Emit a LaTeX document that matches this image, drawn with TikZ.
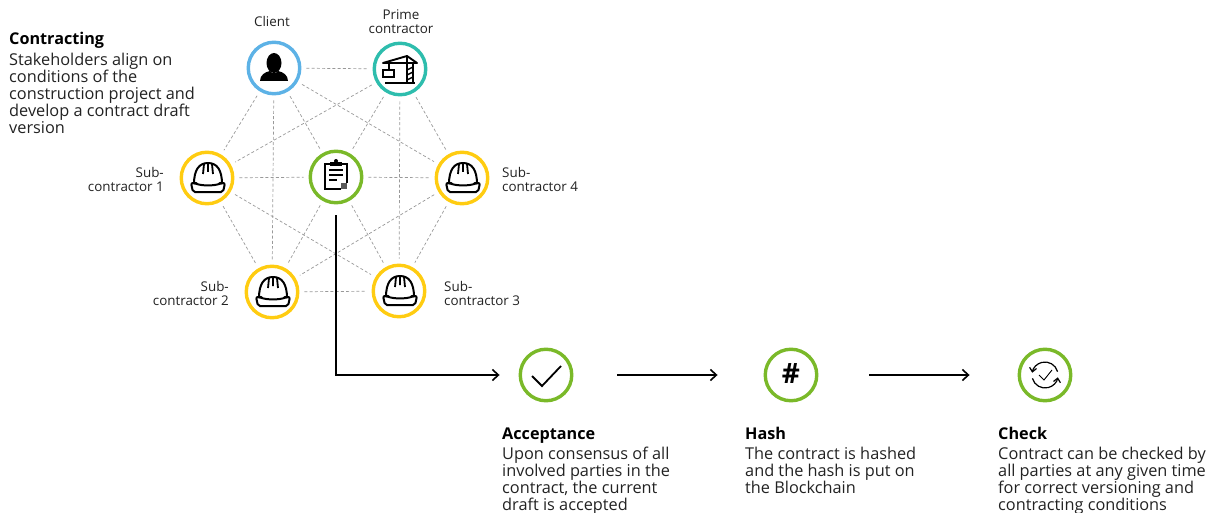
\documentclass[tikz,border=0pt]{standalone}
\usepackage{fontspec}
\setmainfont{Open Sans}
\usetikzlibrary{arrows.meta}
\definecolor{clientblue}{HTML}{5DB2E6}
\definecolor{primeteal}{HTML}{2EBDAD}
\definecolor{subyellow}{HTML}{FFCC11}
\definecolor{stepgreen}{HTML}{7AB929}
\definecolor{inkgray}{HTML}{222222}
\tikzset{
  party/.style={circle,draw=#1,line width=3.4pt,minimum size=51.5pt,inner sep=0pt,fill=white},
  link/.style={draw=gray!80,dash pattern=on 3pt off 2.2pt,line width=0.7pt,shorten >=5pt,shorten <=5pt},
  flow/.style={->,line width=1.6pt,draw=black},
  label/.style={inner sep=0pt,text=inkgray,font=\fontsize{13.4}{14}\selectfont},
  title/.style={inner sep=0pt,anchor=north west,text height=12.4pt,font=\fontsize{16.2}{17}\selectfont\bfseries},
  body/.style={inner sep=0pt,anchor=north west,align=left,text=inkgray,font=\fontsize{16.3}{17}\selectfont},
  pics/hardhat/.style={code={
    \draw[line width=2pt,line join=round] (-13,6) .. controls (-13,-8) and (-8,-15) .. (1,-15) .. controls (10,-15) and (15,-8) .. (15,6);
    \draw[line width=2pt,rounded corners=2pt] (-16,5) -- (-13,5) .. controls (-5,8) and (7,8) .. (15,5) -- (18,5) -- (16,14) -- (-14,14) -- cycle;
    \draw[line width=1.8pt] (-3,-14) -- (-4,-4) (1,-15) -- (1,-6) (5,-14) -- (6,-4);
  }},
  pics/person/.style={code={
    \fill (0,-5) ellipse (7.5pt and 10pt);
    \fill (-14,13) .. controls (-14,7) and (-9,4) .. (-4,3) .. controls (-2,6) and (2,6) .. (4,3) .. controls (9,4) and (14,7) .. (14,13) -- cycle;
  }},
  pics/crane/.style={code={
    \draw[line width=1.9pt,line join=round] (-17,-6) -- (7,-13) -- (17,-6) -- cycle;
    \draw[line width=1.9pt] (-15,14) -- (15,14) (7,-13) -- (7,14) (13,-6) -- (13,14);
    \draw[line width=1.7pt] (-11,-6) -- (-11,1);
    \draw[line width=1.9pt] (-17,1) rectangle (-6,8);
    \foreach \h in {-2,3,8}
      \draw[line width=1.4pt] (7,\h+3) -- (13,\h);
  }},
  pics/clipboard/.style={code={
    \draw[line width=1.5pt] (5,12) -- (-11,12) -- (-11,-13) -- (11,-13) -- (11,6);
    \fill (-6,-15) rectangle (6,-11);
    \fill (0,-16) circle (2pt);
    \draw[line width=1.3pt] (-7,-7) -- (7,-7) (-7,-2) -- (7,-2) (-7,3) -- (1,3);
    \fill[gray!70!black] (5,6) rectangle (11,12);
  }},
  pics/tick/.style={code={
    \draw[line width=1.8pt] (-14,1) -- (-4,11) -- (15,-9);
  }},
  pics/recheck/.style={code={
    \draw[line width=1.2pt,-{Straight Barb[length=4pt,width=7pt]}] (165:13) arc (165:10:13);
    \draw[line width=1.2pt,-{Straight Barb[length=4pt,width=7pt]}] (345:13) arc (-15:-170:13);
    \draw[line width=0.9pt] (-6,0) -- (-1,5) -- (7,-5);
  }}
}
\begin{document}
\begin{tikzpicture}[x=1pt,y=-1pt,>={Straight Barb[length=6pt,width=11pt]}]
      \useasboundingbox (0,0) rectangle (1214,513);
      % the parties, as a hexagon round the contract
      \node[party=clientblue] (client) at (274,68) {};
      \node[party=primeteal] (prime) at (400,69) {};
      \node[party=subyellow] (sub1) at (207,178) {};
      \node[party=stepgreen] (contract) at (336,177) {};
      \node[party=subyellow] (sub4) at (462,178) {};
      \node[party=subyellow] (sub2) at (272,292) {};
      \node[party=subyellow] (sub3) at (399,291) {};
      % every party is linked to the others
      \foreach \a/\b in {client/prime,client/sub1,client/sub2,client/contract,client/sub4,
        prime/sub1,prime/contract,prime/sub3,prime/sub4,
        sub1/contract,sub1/sub2,sub1/sub3,
        contract/sub4,contract/sub2,contract/sub3,
        sub4/sub2,sub4/sub3,sub2/sub3}
        \draw[link] (\a) -- (\b);
      % icons in the circles
      \pic at (client) {person};
      \pic at (prime) {crane};
      \pic at (sub1) {hardhat};
      \pic at (sub4) {hardhat};
      \pic at (sub2) {hardhat};
      \pic at (sub3) {hardhat};
      \pic at (contract) {clipboard};
      % labels of the parties
      \node[label] (clientlabel) at (272,21.5) {Client};
      \node[label,align=center] (primelabel) at (401,22) {Prime\\contractor};
      \node[label,align=right,anchor=east] (sub1label) at (164,179) {Sub-\\contractor 1};
      \node[label,align=left,anchor=west] (sub4label) at (502,179) {Sub-\\contractor 4};
      \node[label,align=right,anchor=east] (sub2label) at (229,293) {Sub-\\contractor 2};
      \node[label,align=left,anchor=west] (sub3label) at (444,293) {Sub-\\contractor 3};
      % text of the first step
      \node[title] (contracting) at (9,32) {Contracting};
      \node[body] (contractingtext) at (9,52.5) {Stakeholders align on\\conditions of the\\construction project and\\develop a contract draft\\version};
      % the three following steps
      \node[party=stepgreen] (accept) at (546,375) {};
      \node[party=stepgreen] (hash) at (791,375) {};
      \node[party=stepgreen] (check) at (1045,375) {};
      \pic at (accept) {tick};
      \node[inner sep=0pt,font=\fontsize{28}{28}\selectfont\bfseries] (hashsign) at (791,374) {\#};
      \pic at (check) {recheck};
      % flow between the steps
      \draw[flow,shorten <=11pt,shorten >=19pt] (contract.south) |- (accept.west);
      \draw[flow,shorten <=44pt,shorten >=46pt] (accept.east) -- (hash.west);
      \draw[flow,shorten <=51pt,shorten >=48pt] (hash.east) -- (check.west);
      % text of the steps
      \node[title] (accepttitle) at (502,427) {Acceptance};
      \node[body] (accepttext) at (502,447) {Upon consensus of all\\involved parties in the\\contract, the current\\draft is accepted};
      \node[title] (hashtitle) at (745,427) {Hash};
      \node[body] (hashtext) at (745,447) {The contract is hashed\\and the hash is put on\\the Blockchain};
      \node[title] (checktitle) at (998,427) {Check};
      \node[body] (checktext) at (998,447) {Contract can be checked by\\all parties at any given time\\for correct versioning and\\contracting conditions};
    \end{tikzpicture}
\end{document}
